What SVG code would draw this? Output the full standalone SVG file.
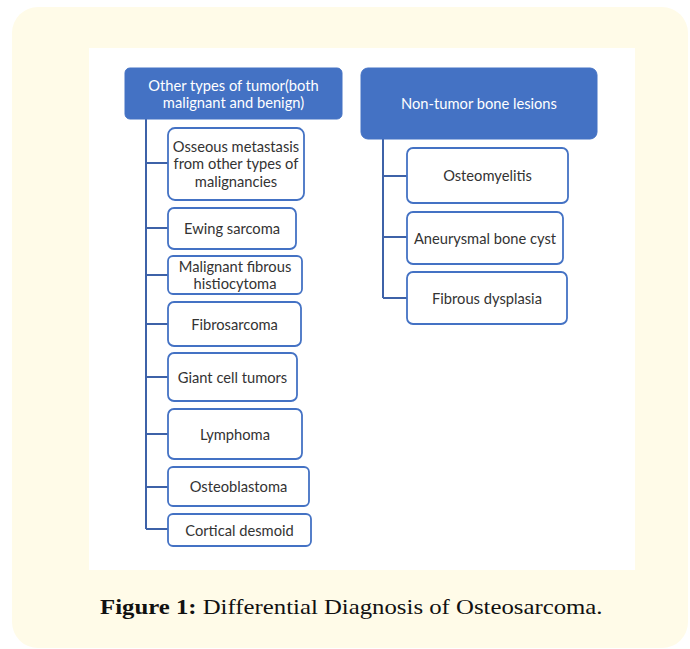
<svg xmlns="http://www.w3.org/2000/svg" width="690" height="649" viewBox="0 0 690 649">
<style>
.hdr{fill:#4472c4;stroke:#4472c4;stroke-width:1}
.box{fill:#ffffff;stroke:#4472c4;stroke-width:1.8}
.ht{font-family:Lato,"Open Sans","Liberation Sans",sans-serif;font-size:14.7px;fill:#ffffff;text-anchor:middle;dominant-baseline:central}
.bt{font-family:Lato,"Open Sans","Liberation Sans",sans-serif;font-size:14.7px;fill:#333333;text-anchor:middle;dominant-baseline:central}
.con{fill:none;stroke:#3e62a8;stroke-width:2}
.cap{font-family:"Liberation Serif","DejaVu Serif",serif;font-size:21px;fill:#111111}
</style>
<rect x="12" y="7" width="676" height="641" rx="26" ry="26" fill="#fffbe8"/>
<rect x="89" y="48" width="546" height="522" fill="#ffffff"/>
<g id="connectors">
<path class="con" d="M146,119 V529 M146,163 H168 M146,228 H168 M146,275 H168 M146,324 H168 M146,377 H168 M146,434 H168 M146,487 H168 M146,529 H168"/>
<path class="con" d="M383,139 V298 M383,176 H407 M383,237 H407 M383,298 H407"/>
</g>
<g id="n-other">
<rect class="hdr" x="125" y="68" width="217" height="51" rx="5"/>
<text class="ht" x="233.5" y="84.5">Other types of tumor(both</text>
<text class="ht" x="233.5" y="102">malignant and benign)</text>
</g>
<g id="n-osseous">
<rect class="box" x="168" y="128" width="136" height="72" rx="7"/>
<text class="bt" x="236" y="146">Osseous metastasis</text>
<text class="bt" x="236" y="163">from other types of</text>
<text class="bt" x="236" y="180.5">malignancies</text>
</g>
<g id="n-ewing">
<rect class="box" x="168" y="208" width="128" height="41" rx="6"/>
<text class="bt" x="232" y="228">Ewing sarcoma</text>
</g>
<g id="n-mfh">
<rect class="box" x="168" y="256" width="134" height="38" rx="5"/>
<text class="bt" x="235" y="266">Malignant fibrous</text>
<text class="bt" x="235" y="283">histiocytoma</text>
</g>
<g id="n-fibrosarcoma">
<rect class="box" x="168" y="302" width="133" height="44" rx="6"/>
<text class="bt" x="234.5" y="323.5">Fibrosarcoma</text>
</g>
<g id="n-giant">
<rect class="box" x="168" y="353" width="129" height="48" rx="6"/>
<text class="bt" x="232.5" y="376.5">Giant cell tumors</text>
</g>
<g id="n-lymphoma">
<rect class="box" x="168" y="409" width="134" height="50" rx="6"/>
<text class="bt" x="235" y="433.5">Lymphoma</text>
</g>
<g id="n-osteoblastoma">
<rect class="box" x="168" y="467" width="141" height="39" rx="5"/>
<text class="bt" x="238.5" y="486">Osteoblastoma</text>
</g>
<g id="n-cortical">
<rect class="box" x="168" y="514" width="143" height="32" rx="5"/>
<text class="bt" x="239.5" y="529.5">Cortical desmoid</text>
</g>
<g id="n-nontumor">
<rect class="hdr" x="361" y="68" width="236" height="71" rx="7"/>
<text class="ht" x="479" y="103">Non-tumor bone lesions</text>
</g>
<g id="n-osteomyelitis">
<rect class="box" x="407" y="148" width="161" height="55" rx="6"/>
<text class="bt" x="487.5" y="175">Osteomyelitis</text>
</g>
<g id="n-abc">
<rect class="box" x="407" y="212" width="156" height="52" rx="6"/>
<text class="bt" x="485" y="237.5">Aneurysmal bone cyst</text>
</g>
<g id="n-fd">
<rect class="box" x="407" y="272" width="160" height="52" rx="6"/>
<text class="bt" x="487" y="297.5">Fibrous dysplasia</text>
</g>
<text class="cap" transform="translate(100,614) scale(1.18,1)" x="0" y="0"><tspan font-weight="bold">Figure 1:</tspan> Differential Diagnosis of Osteosarcoma.</text>
</svg>
